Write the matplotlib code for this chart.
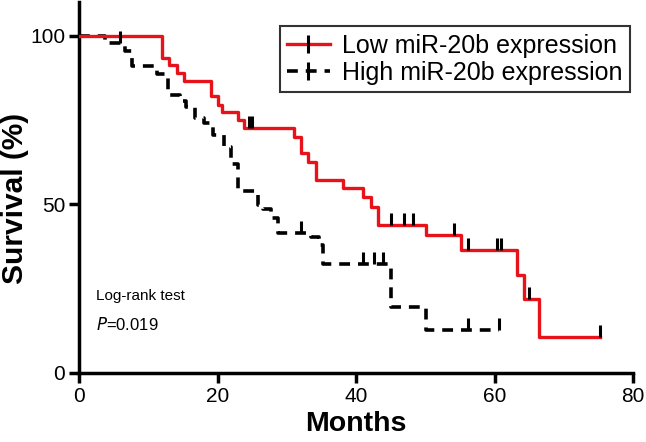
import matplotlib
matplotlib.use('Agg')
import matplotlib.pyplot as plt
import numpy as np
from matplotlib.lines import Line2D

plt.rcParams['font.family'] = ['Liberation Sans', 'DejaVu Sans']

# Kaplan-Meier steps (months, survival %)
low_times = [0, 12, 13, 14.2, 15.1, 19, 20, 20.7, 22.9, 23.8, 31, 32, 33, 34.2,
             38.1, 41, 42.2, 43.2, 50.1, 55.2, 63.2, 64.3, 66.4]
low_surv = [100, 93.5, 91.4, 89, 86.6, 82, 79.5, 77.3, 75, 72.7, 70, 65.3, 62.6,
            57.3, 55, 52.2, 49.3, 44, 41, 36.5, 29, 22, 10.7]
low_censor = [24.5, 25, 45, 47, 48.3, 54.2, 56.2, 60.3, 61, 65, 75.2]
low_end = 75.2

high_times = [0, 3.8, 6.7, 7.7, 11.3, 12.8, 14.6, 15.4, 16.8, 18, 19.4, 20.9,
              21.9, 22.9, 25.8, 26.5, 27.7, 28.8, 33.5, 34.6, 35.2, 45, 50.1]
high_surv = [100, 97.8, 95.5, 91, 88.6, 82.5, 80.5, 79, 75.5, 74, 70.5, 67, 62,
             54, 49.8, 48.5, 46, 41.6, 40.4, 38, 32.3, 19.5, 12.8]
high_censor = [5.9, 32, 41, 42.6, 43.9, 56.2, 60.6]
high_end = 60.6

labels = ['Low miR-20b expression', 'High miR-20b expression']
xticks = [0, 20, 40, 60, 80]
yticks = [0, 50, 100]


def surv_at(times, surv, t):
    i = np.searchsorted(times, t, side='right') - 1
    return surv[i]


fig = plt.figure(figsize=(6.46, 4.42), dpi=100)
ax = fig.add_axes([79/646, 69/442, 554/646, 371/442])

red = '#e8121a'
dash = (0, (3, 2.2))
# high group (dashed black)
ax.step(high_times + [high_end], high_surv + [high_surv[-1]], where='post',
        color='black', lw=2.6, ls=dash, zorder=2)
# low group (red)
ax.step(low_times + [low_end], low_surv + [low_surv[-1]], where='post',
        color=red, lw=2.4, zorder=3)

# censor marks
ax.plot(high_censor, [surv_at(high_times, high_surv, t) for t in high_censor],
        ls='none', marker=2, ms=9, mew=2.2, color='black', zorder=4)
ax.plot(low_censor, [surv_at(low_times, low_surv, t) for t in low_censor],
        ls='none', marker=2, ms=9, mew=2.2, color='black', zorder=4)

ax.set_xlim(0, 80)
ax.set_ylim(0, 110)
ax.set_xticks(xticks)
ax.set_yticks(yticks)
for s in ['top', 'right']:
    ax.spines[s].set_visible(False)
for s in ['left', 'bottom']:
    ax.spines[s].set_linewidth(2.5)
ax.tick_params(direction='out', length=7, width=2.5, labelsize=15, pad=3)

ax.set_xlabel('Months', fontsize=20.5, fontweight='bold', labelpad=4)
ax.set_ylabel('Survival (%)', fontsize=21.5, fontweight='bold')
ax.yaxis.set_label_coords(-0.09, 0.47)

ax.text(2.4, 22.8, 'Log-rank test', fontsize=11, va='center')
ax.text(2.4, 14.5, '$\\it{P}$=0.019', fontsize=12, va='center')

h_low = (Line2D([], [], color=red, lw=2.4),
         Line2D([], [], ls='none', marker='|', ms=13, mew=2.2, color='black'))
h_high = (Line2D([], [], color='black', lw=2.6, ls=dash),
          Line2D([], [], ls='none', marker='|', ms=13, mew=2.2, color='black'))
leg = ax.legend([h_low, h_high], labels, loc='upper right',
                bbox_to_anchor=(0.995, 0.935), borderaxespad=0, fontsize=18,
                frameon=True, fancybox=False, edgecolor='black',
                handlelength=1.7, borderpad=0.3, labelspacing=0.12,
                handletextpad=0.5)
leg.get_frame().set_linewidth(1.5)

fig.savefig('out.png', dpi=100)
